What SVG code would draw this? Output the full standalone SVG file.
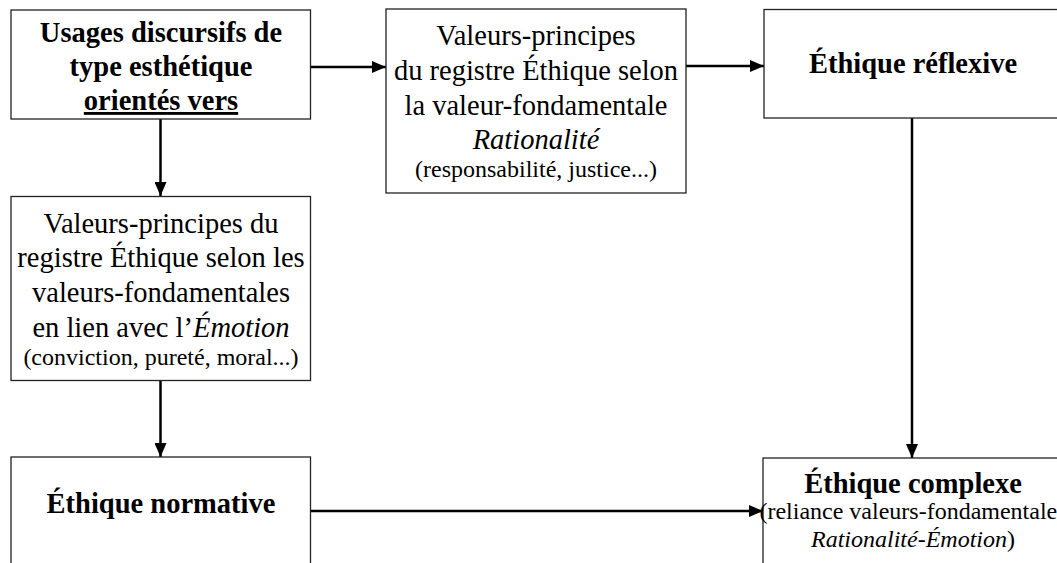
<svg xmlns="http://www.w3.org/2000/svg" width="1057" height="563" viewBox="0 0 1057 563">
<defs>
<marker id="ah" viewBox="0 0 14 12" refX="14" refY="6" markerWidth="14" markerHeight="12" markerUnits="userSpaceOnUse" orient="auto">
<path d="M0,0 L14,6 L0,12 z" fill="#000"/>
</marker>
<style>
.box{fill:#fff;stroke:#222;stroke-width:1.3}
text{font-family:'Liberation Serif',Tinos,'Times New Roman',Times,'Nimbus Roman','DejaVu Serif',serif;fill:#000;text-anchor:middle}
.b{font-weight:bold;font-size:28.5px}
.r{font-size:28.5px}
.s{font-size:24px}
.i{font-style:italic}
.c{stroke:#000;stroke-width:2.5;fill:none;marker-end:url(#ah)}
</style>
</defs>
<rect width="1057" height="563" fill="#fff"/>
<g id="connectors">
<path class="c" d="M310.5,67 H386"/>
<path class="c" d="M686,66 H764"/>
<path class="c" d="M160.5,119 V196"/>
<path class="c" d="M160.5,381 V457"/>
<path class="c" d="M912,118 V458"/>
<path class="c" d="M310.5,511 H763"/>
</g>
<g id="n1">
<rect class="box" x="11" y="10" width="299.5" height="109"/>
<text class="b" x="161" y="42">Usages discursifs de</text>
<text class="b" x="161" y="76">type esthétique</text>
<text class="b" x="161" y="110" text-decoration="underline">orientés vers</text>
</g>
<g id="n2">
<rect class="box" x="386" y="9" width="300" height="184"/>
<text class="r" x="536" y="45">Valeurs-principes</text>
<text class="r" x="536" y="80">du registre Éthique selon</text>
<text class="r" x="536" y="115">la valeur-fondamentale</text>
<text class="r i" x="536" y="149">Rationalité</text>
<text class="s" x="536" y="177">(responsabilité, justice...)</text>
</g>
<g id="n3">
<rect class="box" x="764" y="9.5" width="300" height="108.5"/>
<text class="b" x="913" y="73">Éthique réflexive</text>
</g>
<g id="n4">
<rect class="box" x="11" y="196.5" width="299.5" height="184"/>
<text class="r" x="161" y="233">Valeurs-principes du</text>
<text class="r" x="161" y="267">registre Éthique selon les</text>
<text class="r" x="161" y="302">valeurs-fondamentales</text>
<text class="r" x="161" y="337">en lien avec l’<tspan class="i">Émotion</tspan></text>
<text class="s" x="161" y="365">(conviction, pureté, moral...)</text>
</g>
<g id="n5">
<rect class="box" x="11" y="457" width="299.5" height="120"/>
<text class="b" x="161" y="513">Éthique normative</text>
</g>
<g id="n6">
<rect class="box" x="763" y="458" width="300" height="120"/>
<text class="b" x="913" y="493">Éthique complexe</text>
<text class="s" x="913" y="519">(reliance valeurs-fondamentales</text>
<text class="s" x="913" y="547"><tspan class="i">Rationalité-Émotion</tspan>)</text>
</g>
</svg>
